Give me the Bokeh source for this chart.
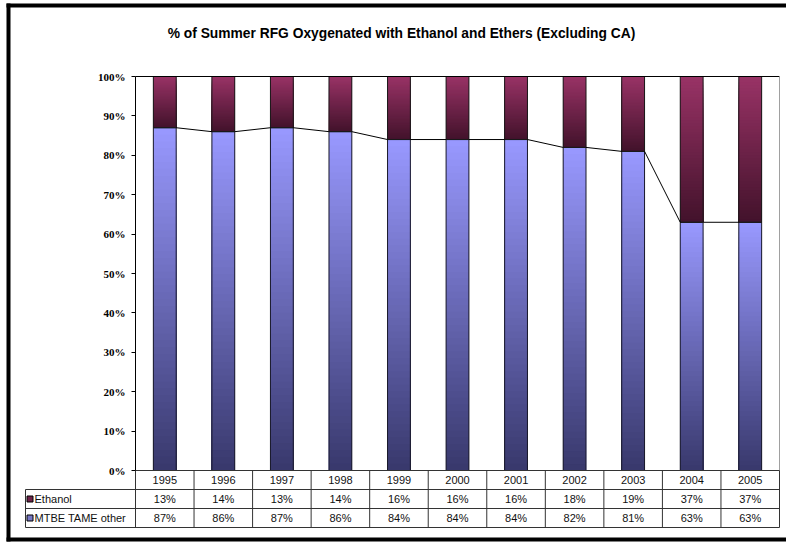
import numpy as np
from bokeh.plotting import figure
from bokeh.models import Range1d, FixedTicker, NumeralTickFormatter, ColumnDataSource, LinearAxis, Label
from bokeh.embed import file_html
from bokeh.resources import INLINE
from bokeh.core.properties import value

# ---------------- data ----------------
years = ["1995", "1996", "1997", "1998", "1999", "2000", "2001", "2002", "2003", "2004", "2005"]
ethanol = [13, 14, 13, 14, 16, 16, 16, 18, 19, 37, 37]
mtbe = [87, 86, 87, 86, 84, 84, 84, 82, 81, 63, 63]
series_names = ["Ethanol", "MTBE TAME other"]
y_ticks = [0.0, 0.1, 0.2, 0.3, 0.4, 0.5, 0.6, 0.7, 0.8, 0.9, 1.0]
title_text = "% of Summer RFG Oxygenated with Ethanol and Ethers (Excluding CA)"

# ---------------- layout / styles ----------------
W, H = 786, 542
PLOT_L, PLOT_R, PLOT_T, PLOT_B = 135, 779, 76, 470   # plot area in pixels
ROW = 19.0                                           # data-table row height in pixels
LEG_L = 25                                           # left edge of the legend column
MTBE_TOP, MTBE_BOT = (153, 153, 255), (56, 56, 108)
ETH_TOP, ETH_BOT = (153, 51, 102), (66, 18, 43)
BW = 0.39
NSTEP = 50
GRID = "#333333"

n = len(years)
xc = np.arange(n) + 0.5
m = np.array(mtbe) / 100.0
e = np.array(ethanol) / 100.0

PX = (PLOT_R - PLOT_L) / n       # pixels per category
PY = float(PLOT_B - PLOT_T)      # pixels per 100 %


def X(px):   # pixel column -> x value
    return (px - PLOT_L) / PX


def T(py):   # pixel row -> table-range value
    return (py - PLOT_B) / ROW


def mix(c_top, c_bot, t):
    r = [int(round(b + (a - b) * t)) for a, b in zip(c_top, c_bot)]
    return "#%02x%02x%02x" % tuple(r)


p = figure(width=W, height=H,
           x_range=Range1d(X(0), X(W)),
           y_range=Range1d(-(H - PLOT_B) / PY, 1 + PLOT_T / PY),
           output_backend="svg", toolbar_location=None,
           x_axis_location=None, y_axis_location=None,
           min_border_left=0, min_border_right=0, min_border_top=0, min_border_bottom=0)
p.extra_y_ranges = {"table": Range1d(T(H), T(0))}
p.grid.visible = False
p.outline_line_color = None
p.background_fill_color = "white"
p.border_fill_color = "white"

# outer black frame of the chart (open on the right, runs off the right edge)
p.quad(left=[X(6)], right=[X(10)], top=[T(3)], bottom=[T(541)],
       fill_color="#000000", line_color=None, y_range_name="table")
p.quad(left=[X(6)], right=[X(W + 40)], top=[T(3)], bottom=[T(7)],
       fill_color="#000000", line_color=None, y_range_name="table")
p.quad(left=[X(6)], right=[X(W + 40)], top=[T(537)], bottom=[T(541)],
       fill_color="#000000", line_color=None, y_range_name="table")

# chart title, anchored to the top-left corner of the plot area
p.add_layout(Label(x=0, y=1, x_offset=266, y_offset=43, text=title_text,
                   text_align="center", text_baseline="middle",
                   text_font="Liberation Sans", text_font_size="13.8px",
                   text_font_style="bold", text_color="#000000"))

ax = LinearAxis(fixed_location=0, bounds=(0, 1),
                ticker=FixedTicker(ticks=y_ticks),
                formatter=NumeralTickFormatter(format="0%"))
ax.major_label_text_font = "Liberation Serif"
ax.major_label_text_font_style = "bold"
ax.major_label_text_font_size = "11px"
ax.major_label_text_color = "#000000"
ax.major_tick_out = 4
ax.major_tick_in = 0
ax.minor_tick_out = 0
ax.minor_tick_in = 0
ax.major_label_standoff = 6
ax.axis_line_color = "#000000"
ax.major_tick_line_color = "#000000"
p.add_layout(ax, "left")

# gradient bars (full-height lightest slice first, shorter darker slices over it)
gx, gb, gt, gc = [], [], [], []
hx, hb, ht, hc = [], [], [], []
for k in range(NSTEP, 0, -1):
    f = k / NSTEP
    t = (k - 0.5) / NSTEP
    cm = mix(MTBE_TOP, MTBE_BOT, t)
    ce = mix(ETH_TOP, ETH_BOT, t)
    for i in range(n):
        gx.append(xc[i]); gb.append(0.0); gt.append(m[i] * f); gc.append(cm)
        hx.append(xc[i]); hb.append(m[i]); ht.append(m[i] + e[i] * f); hc.append(ce)

p.vbar(x="x", bottom="b", top="t", width=BW, fill_color="c", line_color=None,
       source=ColumnDataSource(dict(x=gx, b=gb, t=gt, c=gc)))
p.vbar(x="x", bottom="b", top="t", width=BW, fill_color="c", line_color=None,
       source=ColumnDataSource(dict(x=hx, b=hb, t=ht, c=hc)))

p.vbar(x=xc, bottom=0, top=m, width=BW, fill_color=None, line_color="#1a1a2a", line_width=1)
p.vbar(x=xc, bottom=m, top=m + e, width=BW, fill_color=None, line_color="#1a1a1a", line_width=1)

# series lines between the MTBE tops
p.segment(x0=xc[:-1] + BW / 2, y0=m[:-1], x1=xc[1:] - BW / 2, y1=m[1:], line_color="#000000", line_width=1)

# plot-area border: black top, grey right
p.segment(x0=[0], y0=[1], x1=[n], y1=[1], line_color="#000000", line_width=1)
p.segment(x0=[n], y0=[0], x1=[n], y1=[1], line_color="#a0a0a0", line_width=1)

# ---------------- data table ----------------
xL = X(LEG_L)
bounds = np.arange(n + 1)
p.segment(x0=[0, xL, xL, xL], y0=[0, 1, 2, 3], x1=[n, n, n, n], y1=[0, 1, 2, 3],
          line_color=GRID, line_width=1, y_range_name="table")
p.segment(x0=bounds, y0=0, x1=bounds, y1=3, line_color=GRID, line_width=1, y_range_name="table")
p.segment(x0=[xL], y0=[1], x1=[xL], y1=[3], line_color=GRID, line_width=1, y_range_name="table")

font = value("Liberation Sans")
for row, labels in ((0.5, years),
                    (1.5, ["%d%%" % v for v in ethanol]),
                    (2.5, ["%d%%" % v for v in mtbe])):
    p.text(x=xc, y=row, text=labels, text_align="center", text_baseline="middle",
           text_font=font, text_font_size="11px", text_color="#111111", y_range_name="table")

p.rect(x=[X(LEG_L + 4.5)] * 2, y=[1.5, 2.5], width=6, height=6, width_units="screen", height_units="screen",
       fill_color=["#6e2248", "#7676c4"], line_color="#000000", line_width=1, y_range_name="table")
p.text(x=[xL, xL], y=[1.5, 2.5], text=series_names, x_offset=9, text_align="left", text_baseline="middle",
       text_font=font, text_font_size="11px", text_color="#111111", y_range_name="table")

open("out.html", "w").write(file_html(p, INLINE))
